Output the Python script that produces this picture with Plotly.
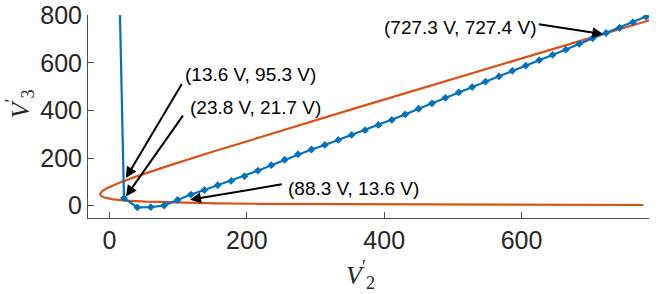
import plotly.graph_objects as go

# Blue curve (V2', V3') points
blue_x = [14.5, 21.1, 40.6, 60.1, 79.6, 99.1, 118.6, 138.1, 157.6, 177.1, 196.6,
          216.1, 235.6, 255.1, 274.6, 294.1, 313.6, 333.1, 352.6, 372.1, 391.6,
          411.1, 430.6, 450.1, 469.6, 489.1, 508.6, 528.1, 547.6, 567.1, 586.6,
          606.1, 625.6, 645.1, 664.6, 684.1, 703.6, 723.1, 742.6, 762.1, 781.6]
blue_y = [900, 32, -7, -6, 1, 24, 47, 66, 86, 104, 124,
          147, 170, 193, 216, 236, 255, 276, 297, 317, 339,
          360, 383, 407, 430, 453, 476, 498, 521, 543, 566,
          588, 611, 633, 655, 679, 703, 725, 747, 770, 794]

# Orange curve points
orange_y = [3.0, 3.5, 4.0, 4.5, 5.0, 6.0, 7.0, 8.0, 10.0, 12.0, 13.6, 17.0, 21.7,
            27.0, 34.0, 42.0, 50.0, 60.0, 72.0, 85.0, 95.3, 120.0, 160.0, 220.0,
            300.0, 400.0, 500.0, 600.0, 700.0, 781.0]
orange_x = [777.5, 649.5, 553.7, 479.0, 419.8, 331.0, 267.9, 220.8, 155.7, 113.0,
            88.4, 52.6, 23.7, 5.5, -6.9, -12.7, -13.6, -11.0, -4.5, 5.0, 13.5,
            36.5, 77.6, 143.0, 233.0, 347.6, 462.9, 578.7, 694.8, 788.9]

# Annotation labels
labels = ["(13.6 V, 95.3 V)", "(23.8 V, 21.7 V)", "(88.3 V, 13.6 V)", "(727.3 V, 727.4 V)"]
label_x = [107.5, 113.9, 257.0, 396.4]
label_y = [549.0, 412.8, 74.0, 746.8]
head_x = [24.0, 24.0, 117.2, 719.1]
head_y = [116.1, 39.0, 25.1, 719.6]
tail_x = [106.6, 108.5, 253.1, 623.0]
tail_y = [516.8, 384.3, 90.9, 762.8]

x_ticks = [0, 200, 400, 600]
y_ticks = [0, 200, 400, 600, 800]

fig = go.Figure()
fig.add_trace(go.Scatter(x=orange_x, y=orange_y, mode="lines",
                         line=dict(color="#D95319", width=2.2), showlegend=False))
fig.add_trace(go.Scatter(x=blue_x, y=blue_y, mode="lines+markers",
                         line=dict(color="#0072BD", width=2.2),
                         marker=dict(symbol="diamond", size=6, color="#0072BD"),
                         showlegend=False))

anns = []
for hx, hy, tx, ty in zip(head_x, head_y, tail_x, tail_y):
    anns.append(dict(x=hx, y=hy, ax=tx, ay=ty, xref="x", yref="y", axref="x", ayref="y",
                     text="", showarrow=True, arrowhead=2, arrowsize=1.1,
                     arrowwidth=2, arrowcolor="black"))
for t, lx, ly in zip(labels, label_x, label_y):
    anns.append(dict(x=lx, y=ly, xref="x", yref="y", text=t, showarrow=False,
                     xanchor="left", yanchor="middle",
                     font=dict(family="Liberation Sans, Arial", size=19, color="black")))

anns.append(dict(x=365, y=-0.281, xref="x", yref="paper", yanchor="middle", xanchor="center",
                 text="<i>V</i><sup>′</sup><sub>2</sub>", showarrow=False,
                 font=dict(family="Liberation Serif, Times New Roman", size=26, color="#262626")))
anns.append(dict(x=-0.121, y=0.56, xref="paper", yref="paper",
                 text="<i>V</i><sup>′</sup><sub>3</sub>", showarrow=False, textangle=-90,
                 xanchor="center", yanchor="middle",
                 font=dict(family="Liberation Serif, Times New Roman", size=26, color="#262626")))

fig.update_layout(
    width=664, height=294,
    margin=dict(l=88, r=15, t=15, b=76, autoexpand=False),
    paper_bgcolor="white", plot_bgcolor="white",
    font=dict(family="Liberation Sans, Arial", size=25, color="#262626"),
    annotations=anns,
)
axis_style = dict(ticks="inside", ticklen=6, tickcolor="#4d4d4d", showline=True,
                  linecolor="#4d4d4d", linewidth=1, showgrid=False, zeroline=False,
                  automargin=False, ticklabeloverflow="allow",
                  tickfont=dict(size=25, color="#262626"))
fig.update_xaxes(range=[-31.3, 785.6], tickvals=x_ticks, **axis_style)
fig.update_yaxes(range=[-51.5, 800.5], tickvals=y_ticks, **axis_style)

fig.write_html("out.html", config={"displayModeBar": False},
               post_script="document.body.style.margin='0px';")
